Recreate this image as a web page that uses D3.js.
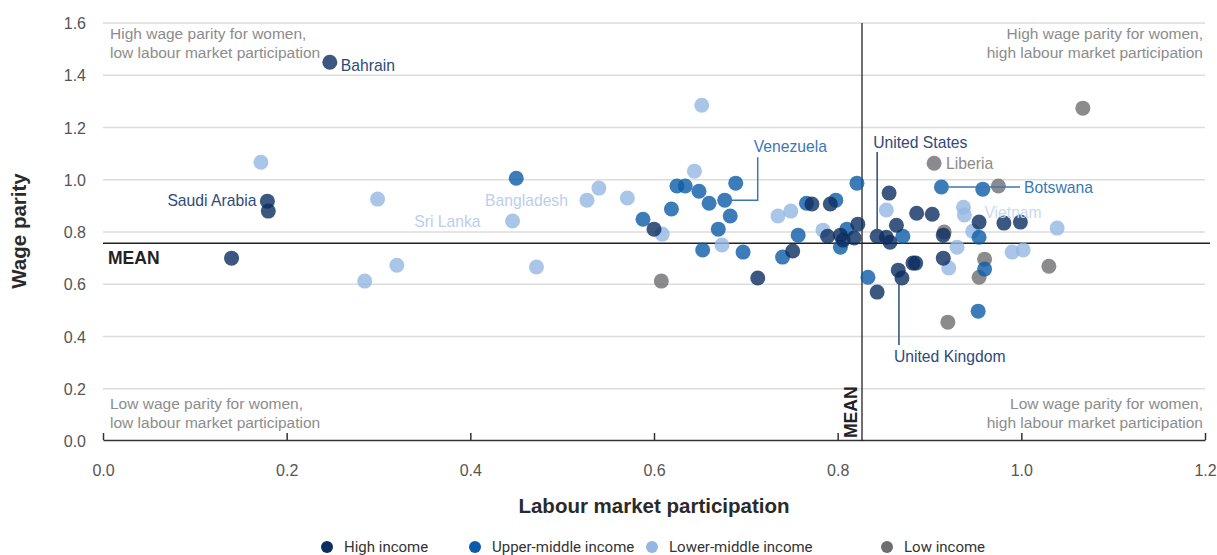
<!DOCTYPE html>
<html>
<head>
<meta charset="utf-8">
<script src="https://cdn.jsdelivr.net/npm/d3@7"></script>
<style>
  body { margin: 0; background: #fff; }
  svg { font-family: "Liberation Sans", Arial, sans-serif; }
</style>
</head>
<body>
<div id="chart"></div>
<script>
// [labour market participation, wage parity]
const highIncome = [
  [0.247, 1.450], [0.179, 0.918], [0.180, 0.880], [0.140, 0.700], [0.600, 0.811],
  [0.713, 0.624], [0.751, 0.727], [0.772, 0.907], [0.792, 0.907], [0.789, 0.784],
  [0.803, 0.788], [0.806, 0.769], [0.818, 0.777], [0.822, 0.830], [0.843, 0.784],
  [0.853, 0.780], [0.857, 0.761], [0.856, 0.949], [0.886, 0.872], [0.903, 0.868],
  [0.864, 0.826], [0.915, 0.788], [0.954, 0.838], [0.981, 0.834], [0.999, 0.838],
  [0.882, 0.681], [0.885, 0.681], [0.915, 0.700], [0.866, 0.654], [0.870, 0.624],
  [0.843, 0.570]
];
const upperMiddle = [
  [0.450, 1.006], [0.625, 0.976], [0.634, 0.976], [0.649, 0.956], [0.689, 0.987],
  [0.660, 0.910], [0.677, 0.922], [0.619, 0.888], [0.683, 0.861], [0.588, 0.849],
  [0.670, 0.811], [0.653, 0.731], [0.697, 0.723], [0.766, 0.910], [0.798, 0.922],
  [0.757, 0.788], [0.810, 0.811], [0.803, 0.742], [0.740, 0.704], [0.821, 0.987],
  [0.871, 0.784], [0.913, 0.972], [0.958, 0.964], [0.954, 0.780], [0.960, 0.658],
  [0.833, 0.627], [0.953, 0.497]
];
const lowerMiddle = [
  [0.172, 1.067], [0.299, 0.926], [0.285, 0.612], [0.320, 0.673], [0.446, 0.842],
  [0.472, 0.666], [0.527, 0.922], [0.540, 0.968], [0.571, 0.930], [0.652, 1.285],
  [0.644, 1.033], [0.609, 0.792], [0.674, 0.750], [0.735, 0.861], [0.749, 0.880],
  [0.784, 0.807], [0.853, 0.884], [0.937, 0.895], [0.938, 0.865], [0.947, 0.803],
  [0.930, 0.742], [0.921, 0.662], [0.990, 0.723], [1.002, 0.731], [1.039, 0.815]
];
const lowIncome = [
  [0.608, 0.612], [0.905, 1.063], [0.975, 0.976], [0.916, 0.800], [0.960, 0.696],
  [0.954, 0.627], [0.920, 0.455], [1.030, 0.669], [1.067, 1.274]
];
const seriesNames = ["High income", "Upper-middle income", "Lower-middle income", "Low income"];
const seriesColors = ["#0b2d60", "#0b5ca8", "#93b6e2", "#6e6e70"];
const xTicks = [0, 0.2, 0.4, 0.6, 0.8, 1.0, 1.2];
const yTicks = [0, 0.2, 0.4, 0.6, 0.8, 1.0, 1.2, 1.4, 1.6];
const meanX = 0.8265, meanY = 0.757;

const width = 1217, height = 555;
const svg = d3.select("#chart").append("svg")
  .attr("width", width).attr("height", height);

const x = d3.scaleLinear().domain([0, 1.2]).range([103, 1205]);
const y = d3.scaleLinear().domain([0, 1.6]).range([441, 23]);

// grid
svg.append("g").selectAll("line").data(yTicks.filter(d => d > 0)).enter().append("line")
  .attr("x1", 103).attr("x2", x(1.2)).attr("y1", d => y(d)).attr("y2", d => y(d))
  .attr("stroke", "#dcdcdc").attr("stroke-width", 1.5);

// y tick labels
svg.append("g").selectAll("text").data(yTicks).enter().append("text")
  .attr("x", 86).attr("y", d => y(d) + 6).attr("text-anchor", "end")
  .attr("font-size", 16).attr("fill", "#555")
  .text(d => d.toFixed(1));

// x axis
const xAxis = svg.append("g").attr("transform", `translate(0,${y(0) - 1})`)
  .call(d3.axisBottom(x).tickValues(xTicks).tickSize(-7).tickSizeOuter(0).tickPadding(25).tickFormat(d3.format(".1f")));
xAxis.select(".domain").attr("stroke", "#333").attr("stroke-width", 1.5);
xAxis.selectAll(".tick line").attr("stroke", "#333").attr("stroke-width", 1.5);
xAxis.selectAll(".tick text").attr("font-size", 16).attr("fill", "#555")
  .attr("font-family", "'Liberation Sans', Arial, sans-serif");

// mean lines
svg.append("line").attr("x1", 103).attr("x2", 1210).attr("y1", y(meanY)).attr("y2", y(meanY))
  .attr("stroke", "#222").attr("stroke-width", 1.3);
svg.append("line").attr("x1", x(meanX)).attr("x2", x(meanX)).attr("y1", y(1.6)).attr("y2", y(0))
  .attr("stroke", "#222").attr("stroke-width", 1.3);
svg.append("text").attr("x", 108).attr("y", y(meanY) + 21)
  .attr("font-size", 17.5).attr("font-weight", 700).attr("fill", "#222").text("MEAN");
svg.append("text").attr("transform", `translate(${x(meanX) - 5},${y(0) - 3}) rotate(-90)`)
  .attr("font-size", 17.5).attr("font-weight", 700).attr("fill", "#222").text("MEAN");

// quadrant notes
const quad = [
  { x: 110, y: 39, anchor: "start", lines: ["High wage parity for women,", "low labour market participation"] },
  { x: 1203, y: 39, anchor: "end", lines: ["High wage parity for women,", "high labour market participation"] },
  { x: 110, y: 409, anchor: "start", lines: ["Low wage parity for women,", "low labour market participation"] },
  { x: 1203, y: 409, anchor: "end", lines: ["Low wage parity for women,", "high labour market participation"] }
];
quad.forEach(q => {
  const t = svg.append("text").attr("x", q.x).attr("y", q.y).attr("text-anchor", q.anchor)
    .attr("font-size", 15.5).attr("fill", "#8c8c8c");
  q.lines.forEach((l, i) => t.append("tspan").attr("x", q.x).attr("dy", i ? 19 : 0).text(l));
});

// points
const groups = [highIncome, upperMiddle, lowerMiddle, lowIncome];
const drawOrder = [3, 2, 1, 0];
drawOrder.forEach(gi => {
  svg.append("g").selectAll("circle").data(groups[gi]).enter().append("circle")
    .attr("cx", d => x(d[0])).attr("cy", d => y(d[1])).attr("r", 7.5)
    .attr("fill", seriesColors[gi]).attr("fill-opacity", 0.8);
});

// country labels
const navy = "#2e4a78", mid = "#3a78b8", light = "#b8cfec", grey = "#8a8a8a";
function label(txt, px, py, anchor, color) {
  svg.append("text").attr("x", px).attr("y", py).attr("text-anchor", anchor)
    .attr("font-size", 15.7).attr("fill", color).text(txt);
}
const bah = highIncome[0], sau = highIncome[1], sri = lowerMiddle[4], ban = lowerMiddle[6];
label("Bahrain", x(bah[0]) + 11, y(bah[1]) + 9, "start", navy);
label("Saudi Arabia", x(sau[0]) - 11, y(sau[1]) + 5, "end", navy);
label("Sri Lanka", x(sri[0]) - 32, y(sri[1]) + 6, "end", light);
label("Bangladesh", x(ban[0]) - 19, y(ban[1]) + 6, "end", light);

const ven = upperMiddle[6];
svg.append("path").attr("d", `M${x(ven[0]) + 7},${y(ven[1])}H${x(ven[0]) + 33}V${y(ven[1]) - 43}`)
  .attr("fill", "none").attr("stroke", mid).attr("stroke-width", 1.5);
label("Venezuela", x(ven[0]) + 29, y(ven[1]) - 48, "start", mid);

const us = highIncome[14];
svg.append("line").attr("x1", x(us[0])).attr("x2", x(us[0])).attr("y1", y(us[1]) - 7).attr("y2", 152)
  .attr("stroke", navy).attr("stroke-width", 1.5);
label("United States", x(us[0]) - 4, 148, "start", navy);

const lib = lowIncome[1];
label("Liberia", x(lib[0]) + 12, y(lib[1]) + 6, "start", grey);

const bot = upperMiddle[21];
svg.append("line").attr("x1", x(bot[0]) + 7).attr("x2", 1020).attr("y1", y(bot[1])).attr("y2", y(bot[1]))
  .attr("stroke", mid).attr("stroke-width", 1.5);
label("Botswana", 1024, y(bot[1]) + 6, "start", mid);

const vie = lowerMiddle[18];
label("Vietnam", x(vie[0]) + 20, y(vie[1]) + 3, "start", "#c9daf0");

const uk = highIncome[29];
svg.append("line").attr("x1", x(uk[0]) - 3).attr("x2", x(uk[0]) - 3).attr("y1", y(uk[1]) + 6).attr("y2", 345)
  .attr("stroke", navy).attr("stroke-width", 1.5);
label("United Kingdom", x(uk[0]) - 8, 362, "start", navy);

// axis titles
svg.append("text").attr("transform", "translate(26,231) rotate(-90)").attr("text-anchor", "middle")
  .attr("font-size", 20.5).attr("font-weight", 700).attr("fill", "#2a2a2a").text("Wage parity");
svg.append("text").attr("x", 654).attr("y", 513).attr("text-anchor", "middle")
  .attr("font-size", 20.5).attr("font-weight", 700).attr("fill", "#2a2a2a").text("Labour market participation");

// legend
const legendX = [327, 475, 652, 887];
const leg = svg.append("g").selectAll("g").data(seriesNames).enter().append("g")
  .attr("transform", (d, i) => `translate(${legendX[i]},547)`);
leg.append("circle").attr("r", 6).attr("fill", (d, i) => seriesColors[i]);
leg.append("text").attr("x", 17).attr("y", 5).attr("font-size", 15)
  .attr("font-family", "Roboto, sans-serif").attr("fill", "#333").text(d => d);
</script>
</body>
</html>
